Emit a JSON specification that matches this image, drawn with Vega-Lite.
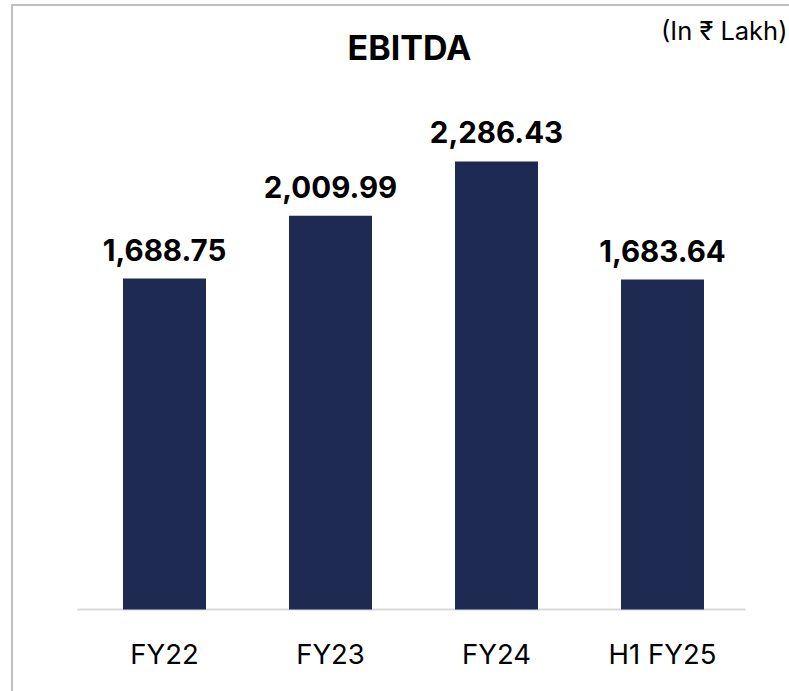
{
  "$schema": "https://vega.github.io/schema/vega-lite/v6.json",
  "width": 779,
  "height": 688,
  "autosize": {"type": "none"},
  "padding": {"left": 12, "top": 5, "right": -2, "bottom": -2},
  "background": "white",
  "config": {
    "view": {"stroke": "#BFBFBF", "strokeWidth": 2},
    "font": "Inter"
  },
  "title": {
    "text": "EBITDA",
    "anchor": "middle",
    "frame": "group",
    "orient": "top",
    "offset": -89,
    "baseline": "alphabetic",
    "dx": 8,
    "fontSize": 34,
    "fontWeight": "bold",
    "font": "Inter",
    "color": "#000000"
  },
  "data": {
    "values": [
      {"period": "FY22", "ebitda": 1688.75},
      {"period": "FY23", "ebitda": 2009.99},
      {"period": "FY24", "ebitda": 2286.43},
      {"period": "H1 FY25", "ebitda": 1683.64}
    ]
  },
  "encoding": {
    "x": {
      "field": "period",
      "type": "nominal",
      "sort": ["FY22", "FY23", "FY24", "H1 FY25"],
      "scale": {"paddingInner": 0.5, "paddingOuter": 0.5964, "align": 0.5606},
      "axis": {
        "orient": "bottom",
        "offset": -83.5,
        "title": null,
        "domain": false,
        "ticks": false,
        "tickSize": 0,
        "labelAngle": 0,
        "labelPadding": 54,
        "labelBaseline": "alphabetic",
        "labelFontSize": 27.5,
        "labelFont": "Inter",
        "labelColor": "#000000"
      }
    }
  },
  "layer": [
    {
      "data": {"values": [{"start": "FY22", "end": "H1 FY25", "zero": 0}]},
      "mark": {"type": "rule", "color": "#D9D9D9", "strokeWidth": 2},
      "encoding": {
        "x": {"field": "start", "type": "nominal", "sort": ["FY22", "FY23", "FY24", "H1 FY25"], "bandPosition": -0.55},
        "x2": {"field": "end", "bandPosition": 1.5},
        "y": {"field": "zero", "type": "quantitative"}
      }
    },
    {
      "mark": {"type": "bar", "color": "#1F2A52"},
      "encoding": {
        "y": {
          "field": "ebitda",
          "type": "quantitative",
          "scale": {"domain": [-426.1, 3085.1], "nice": false, "zero": false},
          "axis": {
            "orient": "right",
            "domain": false,
            "ticks": false,
            "labels": false,
            "grid": false,
            "title": "(In ₹ Lakh)",
            "titleAngle": 0,
            "titleAlign": "right",
            "titleBaseline": "alphabetic",
            "titleX": -4,
            "titleY": 34,
            "titleFontSize": 25.5,
            "titleFontWeight": "normal",
            "titleFont": "Inter",
            "titleColor": "#000000"
          }
        },
        "y2": {"datum": 0}
      }
    },
    {
      "mark": {
        "type": "text",
        "baseline": "alphabetic",
        "dy": -18,
        "fontSize": 29.5,
        "fontWeight": "bold",
        "font": "Inter",
        "color": "#000000"
      },
      "encoding": {
        "y": {"field": "ebitda", "type": "quantitative"},
        "text": {"field": "ebitda", "type": "quantitative", "format": ",.2f"}
      }
    }
  ]
}
